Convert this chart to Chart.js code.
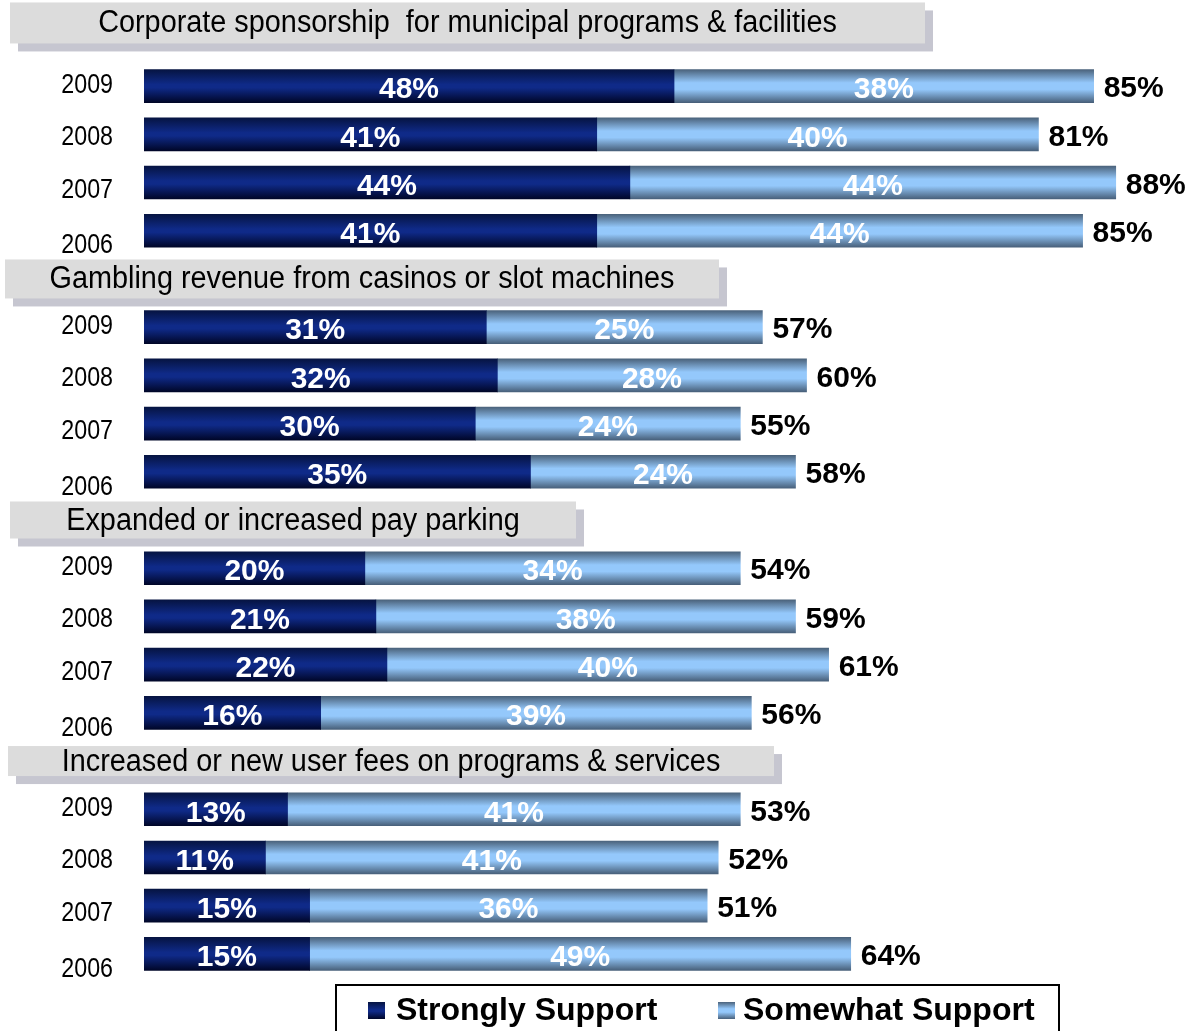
<!DOCTYPE html>
<html>
<head>
<meta charset="utf-8">
<script src="https://cdn.jsdelivr.net/npm/chart.js@4.4.1/dist/chart.umd.min.js"></script>
<style>
  html, body { margin: 0; padding: 0; background: #fff; overflow: hidden; }
  #wrap { position: relative; width: 1191px; height: 1031px; }
</style>
</head>
<body>
<div id="wrap"><canvas id="chart" width="1191" height="1031"></canvas></div>
<script>
// ---------- data ----------
const groups = [
    'Corporate sponsorship  for municipal programs & facilities',
    'Gambling revenue from casinos or slot machines',
    'Expanded or increased pay parking',
    'Increased or new user fees on programs & services'
];
const years = ['2009', '2008', '2007', '2006'];
const seriesNames = ['Strongly Support', 'Somewhat Support'];

const strongly = [48, 41, 44, 41, 31, 32, 30, 35, 20, 21, 22, 16, 13, 11, 15, 15];
const somewhat = [38, 40, 44, 44, 25, 28, 24, 24, 34, 38, 40, 39, 41, 41, 36, 49];
const totals   = [85, 81, 88, 85, 57, 60, 55, 58, 54, 59, 61, 56, 53, 52, 51, 64];

// ---------- layout / style ----------
const SANS = '"Liberation Sans", Arial, sans-serif';
const headerBoxes = [
    { x: 10, w: 915, h: 41 },
    { x: 5,  w: 714, h: 39 },
    { x: 10, w: 566, h: 37 },
    { x: 8,  w: 766, h: 30 }
];
const yearOffsets = [-1, 3, 8, 15];

// rows: a blank slot for each group title (except the first one, drawn above the plot)
const rowLabels = [];
const rowStrong = [];
const rowSome = [];
const rowTotal = [];
const headerRows = [];
groups.forEach(function (g, gi) {
    if (gi > 0) {
        headerRows.push(rowLabels.length);
        rowLabels.push('');
        rowStrong.push(null);
        rowSome.push(null);
        rowTotal.push(null);
    }
    years.forEach(function (y, yi) {
        const k = gi * years.length + yi;
        rowLabels.push(y);
        rowStrong.push(strongly[k]);
        rowSome.push(somewhat[k]);
        rowTotal.push(totals[k]);
    });
});

function darkGrad(ctx, top, h) {
    const g = ctx.createLinearGradient(0, top, 0, top + h);
    g.addColorStop(0, '#061442');
    g.addColorStop(0.45, '#0f2a88');
    g.addColorStop(0.55, '#0f2a88');
    g.addColorStop(1, '#000628');
    return g;
}
function lightGrad(ctx, top, h) {
    const g = ctx.createLinearGradient(0, top, 0, top + h);
    g.addColorStop(0, '#4b637c');
    g.addColorStop(0.4, '#94c8fb');
    g.addColorStop(0.6, '#94c8fb');
    g.addColorStop(1, '#48607a');
    return g;
}
const BAR_H = 33;

function barFill(makeGrad) {
    return function (context) {
        const chart = context.chart;
        if (!chart.chartArea || context.dataIndex === undefined) return '#0f2a88';
        const yc = chart.scales.y.getPixelForValue(context.dataIndex);
        return makeGrad(chart.ctx, yc - BAR_H / 2, BAR_H);
    };
}

// narrow text: Liberation Sans squeezed horizontally (Arial Narrow look-alike)
function narrowText(ctx, text, x, y, size, align, squeeze) {
    ctx.save();
    ctx.translate(x, y);
    ctx.scale(squeeze, 1);
    ctx.font = size + 'px ' + SANS;
    ctx.textAlign = align;
    ctx.textBaseline = 'middle';
    ctx.fillText(text, 0, 0);
    ctx.restore();
}

// ---------- custom drawing ----------
const decorPlugin = {
    id: 'decor',
    afterDatasetsDraw(chart) {
        const ctx = chart.ctx;
        const yScale = chart.scales.y;
        const pitch = yScale.getPixelForValue(1) - yScale.getPixelForValue(0);

        // group titles
        groups.forEach(function (title, gi) {
            const box = headerBoxes[gi];
            let yc;
            if (gi === 0) yc = yScale.getPixelForValue(0) - pitch * 1.31;
            else yc = yScale.getPixelForValue(headerRows[gi - 1]);
            const top = yc - box.h / 2;
            ctx.fillStyle = '#c6c6d0';
            ctx.fillRect(box.x + 8, top + 8, box.w, box.h);
            ctx.fillStyle = '#dcdcdc';
            ctx.fillRect(box.x, top, box.w, box.h);
            ctx.fillStyle = '#000';
            narrowText(ctx, title, box.x + box.w / 2, yc + 1, 31, 'center', 0.93);
        });

        // year labels
        ctx.fillStyle = '#000';
        let pos = 0;
        rowLabels.forEach(function (lab, i) {
            if (!lab) { pos = 0; return; }
            narrowText(ctx, lab, 113, yScale.getPixelForValue(i) + yearOffsets[pos], 28, 'right', 0.83);
            pos++;
        });

        // segment values
        ctx.save();
        ctx.font = 'bold 30px ' + SANS;
        ctx.textAlign = 'center';
        ctx.textBaseline = 'middle';
        ctx.fillStyle = '#fff';
        chart.data.datasets.forEach(function (ds, di) {
            chart.getDatasetMeta(di).data.forEach(function (bar, i) {
                if (ds.data[i] == null) return;
                const left = Math.min(bar.x, bar.base);
                const right = Math.max(bar.x, bar.base);
                ctx.fillText(ds.data[i] + '%', (left + right) / 2, bar.y + 4);
            });
        });
        // totals
        ctx.fillStyle = '#000';
        ctx.textAlign = 'left';
        const lastMeta = chart.getDatasetMeta(1);
        lastMeta.data.forEach(function (bar, i) {
            if (rowTotal[i] == null) return;
            ctx.fillText(rowTotal[i] + '%', bar.x + 10, bar.y + 3);
        });
        ctx.restore();

        // legend
        ctx.save();
        ctx.strokeStyle = '#000';
        ctx.lineWidth = 2;
        ctx.strokeRect(336, 985, 723, 60);
        ctx.font = 'bold 32px ' + SANS;
        ctx.textAlign = 'left';
        ctx.textBaseline = 'middle';
        const items = [
            { sx: 368, tx: 396, grad: darkGrad },
            { sx: 718, tx: 743, grad: lightGrad }
        ];
        items.forEach(function (it, k) {
            ctx.fillStyle = it.grad(ctx, 1002, 17);
            ctx.fillRect(it.sx, 1002, 17, 17);
            ctx.fillStyle = '#000';
            ctx.fillText(seriesNames[k], it.tx, 1011);
        });
        ctx.restore();
    }
};

new Chart(document.getElementById('chart'), {
    type: 'bar',
    data: {
        labels: rowLabels,
        datasets: [
            { label: seriesNames[0], data: rowStrong, backgroundColor: barFill(darkGrad), barThickness: BAR_H, borderWidth: 0 },
            { label: seriesNames[1], data: rowSome, backgroundColor: barFill(lightGrad), barThickness: BAR_H, borderWidth: 0 }
        ]
    },
    options: {
        indexAxis: 'y',
        responsive: false,
        animation: false,
        layout: { padding: { left: 144, right: 9, top: 62, bottom: 53 } },
        scales: {
            x: { stacked: true, min: 0, max: 94, display: false },
            y: { stacked: true, display: false }
        },
        plugins: {
            legend: { display: false },
            tooltip: { enabled: false }
        }
    },
    plugins: [decorPlugin]
});
</script>
</body>
</html>
